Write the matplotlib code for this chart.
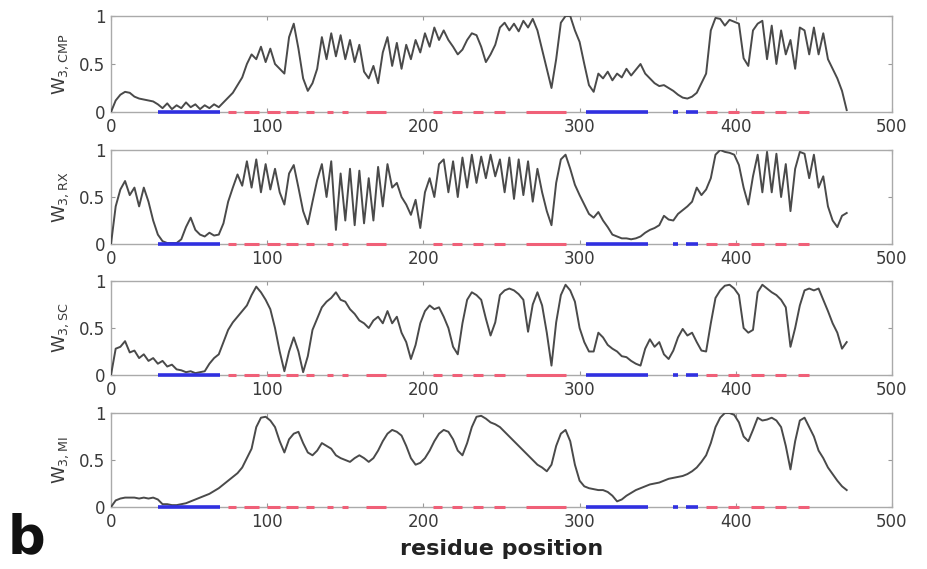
import numpy as np
import matplotlib
matplotlib.use("Agg")
import matplotlib.pyplot as plt

residue = list(range(0, 472, 3))

w_cmp = [
    0.00, 0.12, 0.18, 0.21, 0.20, 0.16, 0.14, 0.13, 0.12, 0.11,
    0.08, 0.04, 0.09, 0.03, 0.07, 0.04, 0.10, 0.05, 0.08, 0.03,
    0.07, 0.04, 0.08, 0.05, 0.10, 0.15, 0.20, 0.28, 0.36, 0.50,
    0.60, 0.55, 0.68, 0.52, 0.66, 0.50, 0.45, 0.40, 0.78, 0.92,
    0.66, 0.35, 0.22, 0.30, 0.45, 0.78, 0.55, 0.82, 0.58, 0.80,
    0.55, 0.75, 0.52, 0.70, 0.42, 0.35, 0.48, 0.30, 0.62, 0.78,
    0.48, 0.72, 0.45, 0.70, 0.55, 0.75, 0.62, 0.82, 0.68, 0.88,
    0.75, 0.85, 0.75, 0.68, 0.60, 0.65, 0.75, 0.82, 0.80, 0.68,
    0.52, 0.60, 0.70, 0.88, 0.93, 0.85, 0.92, 0.84, 0.95, 0.88,
    0.97, 0.85, 0.65, 0.45, 0.25, 0.55, 0.93, 1.00, 1.00, 0.85,
    0.73, 0.50, 0.28, 0.21, 0.40, 0.35, 0.42, 0.33, 0.40, 0.36,
    0.45, 0.38, 0.44, 0.50, 0.40, 0.35, 0.30, 0.27, 0.28, 0.25,
    0.22, 0.18, 0.15, 0.14, 0.16, 0.20, 0.30, 0.40, 0.85, 0.98,
    0.97, 0.90, 0.96, 0.94, 0.92, 0.56, 0.48, 0.85, 0.92, 0.95,
    0.55, 0.90, 0.50, 0.85, 0.60, 0.75, 0.45, 0.88, 0.85, 0.60,
    0.88, 0.60, 0.82, 0.55, 0.45, 0.35, 0.22, 0.02,
]

w_rx = [
    0.00, 0.40, 0.58, 0.67, 0.52, 0.60, 0.40, 0.60, 0.45, 0.25,
    0.10, 0.03, 0.01, 0.01, 0.01, 0.05, 0.18, 0.28, 0.15, 0.10,
    0.08, 0.12, 0.09, 0.10, 0.22, 0.45, 0.60, 0.74, 0.62, 0.88,
    0.60, 0.90, 0.55, 0.85, 0.58, 0.80, 0.55, 0.42, 0.75, 0.84,
    0.60, 0.35, 0.21, 0.45, 0.68, 0.85, 0.50, 0.88, 0.15, 0.75,
    0.25, 0.80, 0.20, 0.78, 0.22, 0.70, 0.25, 0.82, 0.40, 0.85,
    0.60, 0.65, 0.50, 0.42, 0.31, 0.47, 0.17, 0.55, 0.70, 0.50,
    0.85, 0.90, 0.55, 0.88, 0.50, 0.92, 0.60, 0.95, 0.65, 0.93,
    0.70, 0.95, 0.72, 0.90, 0.55, 0.92, 0.48, 0.90, 0.52, 0.88,
    0.45, 0.80, 0.55, 0.35, 0.20, 0.65, 0.90, 0.95, 0.80, 0.63,
    0.52, 0.42, 0.32, 0.28, 0.34, 0.25, 0.18, 0.10, 0.08, 0.06,
    0.06, 0.05, 0.06, 0.08, 0.12, 0.15, 0.17, 0.20, 0.30, 0.26,
    0.25, 0.32, 0.36, 0.40, 0.45, 0.60, 0.52, 0.58, 0.70, 0.95,
    1.00, 0.98, 0.97, 0.95, 0.84, 0.60, 0.42, 0.72, 0.95, 0.55,
    0.98, 0.55, 0.96, 0.50, 0.85, 0.35, 0.80, 0.98, 0.96, 0.70,
    0.95, 0.60, 0.72, 0.40, 0.25, 0.18, 0.30, 0.33,
]

w_sc = [
    0.00, 0.28, 0.30, 0.36, 0.24, 0.26, 0.18, 0.22, 0.15, 0.18,
    0.12, 0.15, 0.09, 0.11, 0.06, 0.05, 0.03, 0.04, 0.02, 0.03,
    0.04, 0.12, 0.18, 0.22, 0.35, 0.48, 0.56, 0.62, 0.68, 0.74,
    0.85, 0.94, 0.88, 0.80, 0.70, 0.50, 0.25, 0.04, 0.25, 0.40,
    0.25, 0.03, 0.20, 0.48, 0.60, 0.72, 0.78, 0.82, 0.88, 0.80,
    0.78, 0.70, 0.65, 0.58, 0.55, 0.50, 0.58, 0.62, 0.55, 0.68,
    0.55, 0.62, 0.45, 0.35, 0.17, 0.32, 0.55, 0.68, 0.74, 0.70,
    0.72, 0.62, 0.50, 0.30, 0.22, 0.55, 0.80, 0.88, 0.85, 0.80,
    0.60, 0.42, 0.56, 0.85, 0.90, 0.92, 0.90, 0.86, 0.80, 0.46,
    0.75, 0.88, 0.74, 0.45, 0.10, 0.56, 0.85, 0.96, 0.90, 0.78,
    0.50, 0.35, 0.25, 0.25, 0.45, 0.40, 0.32, 0.28, 0.25, 0.20,
    0.19, 0.15, 0.12, 0.10, 0.28, 0.38, 0.30, 0.35, 0.22, 0.17,
    0.26, 0.40, 0.49, 0.42, 0.45, 0.35, 0.26, 0.25, 0.55, 0.82,
    0.90, 0.95, 0.96, 0.92, 0.85, 0.50, 0.45, 0.48, 0.88, 0.96,
    0.92, 0.88, 0.85, 0.80, 0.72, 0.30, 0.50, 0.74, 0.90, 0.92,
    0.90, 0.92, 0.80, 0.68, 0.55, 0.45, 0.28, 0.35,
]

w_mi = [
    0.00, 0.07, 0.09, 0.10, 0.10, 0.10, 0.09, 0.10, 0.09, 0.10,
    0.08, 0.03, 0.03, 0.02, 0.02, 0.03, 0.04, 0.06, 0.08, 0.10,
    0.12, 0.14, 0.17, 0.20, 0.24, 0.28, 0.32, 0.36, 0.42, 0.52,
    0.62, 0.85, 0.95, 0.96, 0.92, 0.85, 0.70, 0.58, 0.72, 0.78,
    0.80, 0.68, 0.58, 0.55, 0.60, 0.68, 0.65, 0.62, 0.55, 0.52,
    0.50, 0.48, 0.52, 0.55, 0.52, 0.48, 0.52, 0.60, 0.70, 0.78,
    0.82, 0.80, 0.76, 0.65, 0.52, 0.45, 0.47, 0.52, 0.60, 0.70,
    0.78, 0.82, 0.80, 0.72, 0.60, 0.55, 0.68, 0.85, 0.96, 0.97,
    0.94, 0.90, 0.88, 0.85, 0.80, 0.75, 0.70, 0.65, 0.60, 0.55,
    0.50, 0.45, 0.42, 0.38, 0.45, 0.65, 0.78, 0.82, 0.70, 0.45,
    0.28, 0.22, 0.20, 0.19, 0.18, 0.18, 0.16, 0.12, 0.06, 0.08,
    0.12, 0.15, 0.18, 0.20, 0.22, 0.24, 0.25, 0.26, 0.28, 0.30,
    0.31, 0.32, 0.33, 0.35, 0.38, 0.42, 0.48, 0.55, 0.68, 0.85,
    0.95, 1.00, 1.00, 0.98, 0.90, 0.75, 0.70, 0.82, 0.95, 0.92,
    0.93, 0.95, 0.92, 0.85, 0.65, 0.40, 0.70, 0.92, 0.95, 0.85,
    0.75, 0.60, 0.52, 0.42, 0.35, 0.28, 0.22, 0.18,
]

blue_segments = [(30, 70), (304, 344), (360, 363), (368, 376)]
red_segments = [(75, 80), (85, 95), (100, 108), (112, 120), (125, 130),
                (138, 142), (148, 152), (163, 176), (206, 212), (218, 225),
                (232, 238), (245, 252), (266, 291), (381, 388), (395, 402),
                (410, 418), (425, 432), (440, 447)]

panel_labels = [r'$\mathrm{W}_{3,\mathrm{CMP}}$', r'$\mathrm{W}_{3,\mathrm{RX}}$',
                r'$\mathrm{W}_{3,\mathrm{SC}}$', r'$\mathrm{W}_{3,\mathrm{MI}}$']
series = [w_cmp, w_rx, w_sc, w_mi]
x_ticks = [0, 100, 200, 300, 400, 500]
y_ticks = [0, 0.5, 1]
y_ticklabels = ['0', '0.5', '1']

W, H = 928, 569
fig = plt.figure(figsize=(W / 100, H / 100), dpi=100)
rows = [(16, 112), (150, 244), (281, 375), (413, 507)]
left_px, right_px = 111, 892
txt = '#3a3a3a'
for (top, bot), vals, lab in zip(rows, series, panel_labels):
    ax = fig.add_axes([left_px / W, 1 - bot / H, (right_px - left_px) / W, (bot - top) / H])
    ax.plot(residue, vals, color='#4a4a4a', lw=1.4, zorder=3)
    for a, b in blue_segments:
        ax.plot([a, b], [0, 0], color='#3030e0', lw=2.6, solid_capstyle='butt',
                clip_on=False, zorder=6)
    for a, b in red_segments:
        ax.plot([a, b], [0, 0], color='#f06078', lw=2.2, solid_capstyle='butt',
                clip_on=False, zorder=6)
    ax.set_xlim(0, 500)
    ax.set_ylim(0, 1)
    ax.set_xticks(x_ticks)
    ax.set_yticks(y_ticks)
    ax.set_yticklabels(y_ticklabels)
    ax.tick_params(direction='in', top=True, right=True, length=3, width=0.8,
                   colors='#999999', labelcolor=txt, labelsize=12, pad=4)
    for s in ax.spines.values():
        s.set_color('#aaaaaa')
        s.set_linewidth(1.0)
    ax.set_ylabel(lab, fontsize=13, color=txt, labelpad=6)
    if top == 413:
        ax.set_xlabel('residue position', fontsize=16, fontweight='bold', color='#222222', labelpad=6)

fig.text(8 / W, 1 - 553 / H, 'b', fontsize=38, fontweight='bold', color='#111111',
         ha='left', va='baseline')

fig.savefig('out.png', dpi=100)
